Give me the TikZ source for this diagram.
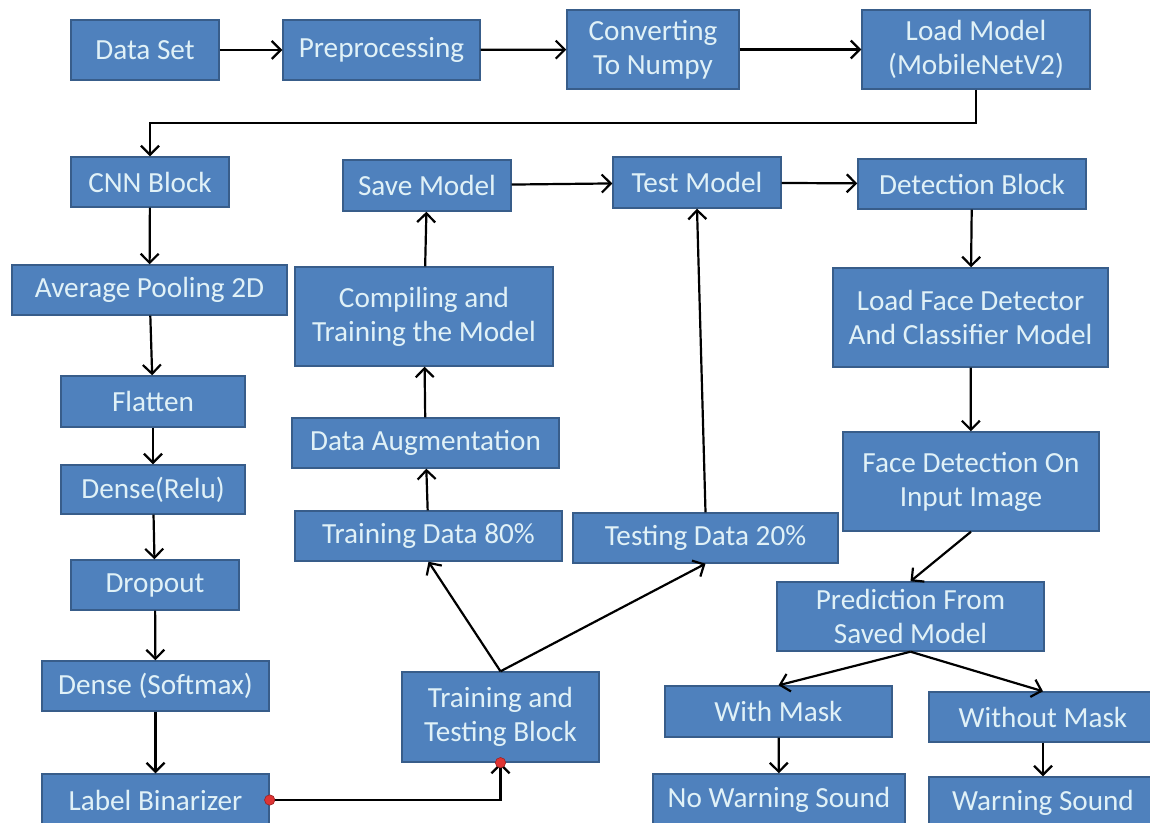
\documentclass[tikz,border=0pt]{standalone}
\usepackage{fontspec}
\setmainfont{Carlito}
\usetikzlibrary{arrows.meta}
\definecolor{boxblue}{RGB}{79,129,189}
\definecolor{boxedge}{RGB}{56,93,138}
\definecolor{boxtext}{RGB}{224,241,247}
\definecolor{dotred}{RGB}{222,52,52}
\begin{document}
\begin{tikzpicture}[x=0.5pt,y=-0.5pt,
                    block/.style={rectangle,draw=boxedge,fill=boxblue,text=boxtext,line width=0.7pt,
                                  inner sep=0pt,align=center,font=\fontsize{14.6}{17}\selectfont},
                    boxsize/.style 2 args={minimum width=#1pt,minimum height=#2pt},
                    link/.style={line width=1.1pt,-{Straight Barb[length=4.5pt,width=9pt,line width=1.1pt]}},
                    dot/.style={fill=dotred,draw=dotred!70!black,line width=0.3pt}]

        \fill[white] (0,0) rectangle (1150,823);
        \useasboundingbox (0,0) rectangle (1150,823);

        % Define vertices
        \node[block,boxsize={74}{30}] (dataset) at (145,50) {Data Set};
        \node[block,boxsize={98.5}{30}] (preproc) at (381.5,50) {Preprocessing};
        \node[block,boxsize={86}{39.5}] (numpy) at (653,49.5) {Converting\\To Numpy};
        \node[block,boxsize={114}{39.5}] (loadmodel) at (976,49.5) {Load Model\\(MobileNetV2)};

        \node[block,boxsize={79}{25}] (cnn) at (150,182) {CNN Block};
        \node[block,boxsize={137.5}{25}] (avgpool) at (149.5,290) {Average Pooling 2D};
        \node[block,boxsize={92}{25.5}] (flatten) at (153,401.5) {Flatten};
        \node[block,boxsize={92}{24.5}] (relu) at (153,489.5) {Dense(Relu)};
        \node[block,boxsize={84}{25}] (dropout) at (155,585) {Dropout};
        \node[block,boxsize={113.5}{25}] (softmax) at (155.5,686) {Dense (Softmax)};
        \node[block,boxsize={113.5}{26}] (labelbin) at (155.5,800) {Label Binarizer};

        \node[block,boxsize={84}{25.5}] (savemodel) at (427,185.5) {Save Model};
        \node[block,boxsize={129}{49.5}] (compiling) at (424,316.5) {Compiling and\\Training the Model};
        \node[block,boxsize={133.5}{25}] (dataaug) at (425.5,443) {Data Augmentation};
        \node[block,boxsize={133.5}{25}] (train) at (428.5,536) {Training Data 80\%};
        \node[block,boxsize={98.5}{45}] (ttblock) at (500.5,717) {Training and\\Testing Block};

        \node[block,boxsize={84}{25.5}] (testmodel) at (697,182.5) {Test Model};
        \node[block,boxsize={132.5}{25}] (test) at (705.5,538) {Testing Data 20\%};

        \node[block,boxsize={114}{25}] (detection) at (972,184) {Detection Block};
        \node[block,boxsize={137.5}{49.5}] (loadface) at (970.5,317.5) {Load Face Detector\\And Classifier Model};
        \node[block,boxsize={128}{49.5}] (facedet) at (971,481.5) {Face Detection On\\Input Image};
        \node[block,boxsize={133.5}{34.5}] (predict) at (910.5,616.5) {Prediction From\\Saved Model};
        \node[block,boxsize={113.5}{25.5}] (withmask) at (778.5,711.5) {With Mask};
        \node[block,boxsize={114}{25}] (withoutmask) at (1043,717) {Without Mask};
        \node[block,boxsize={126}{26}] (nowarn) at (779,800) {No Warning Sound};
        \node[block,boxsize={114}{25.5}] (warn) at (1043,802.5) {Warning Sound};

        \coordinate (turn) at (150,123);

        % Define edges
        \draw[link] (dataset) -- (preproc);
        \draw[link] (preproc) -- (numpy);
        \draw[link] (numpy) -- (loadmodel);
        \draw[link] (loadmodel.south) |- (turn) -- (cnn.north);
        \draw[link] (cnn) -- (avgpool);
        \draw[link] (avgpool) -- (flatten);
        \draw[link] (flatten) -- (relu);
        \draw[link] (relu) -- (dropout);
        \draw[link] (dropout) -- (softmax);
        \draw[link] (softmax) -- (labelbin);
        \draw[link] (labelbin.east) -| (ttblock.south);
        \draw[link] (ttblock.north) -- (train.south);
        \draw[link] (ttblock.north) -- (test.south);
        \draw[link] (train) -- (dataaug);
        \draw[link] (dataaug) -- (compiling);
        \draw[link] (compiling) -- (savemodel);
        \draw[link] (savemodel) -- (testmodel);
        \draw[link] (test.north) -- (testmodel.south);
        \draw[link] (testmodel) -- (detection);
        \draw[link] (detection) -- (loadface);
        \draw[link] (loadface) -- (facedet);
        \draw[link] (facedet.south) -- (predict.north);
        \draw[link] (predict.south) -- (withmask.north);
        \draw[link] (predict.south) -- (withoutmask.north);
        \draw[link] (withmask) -- (nowarn);
        \draw[link] (withoutmask) -- (warn);

        \filldraw[dot] (labelbin.east) circle (2.6pt);
        \filldraw[dot] (ttblock.south) circle (2.6pt);
\end{tikzpicture}
\end{document}
